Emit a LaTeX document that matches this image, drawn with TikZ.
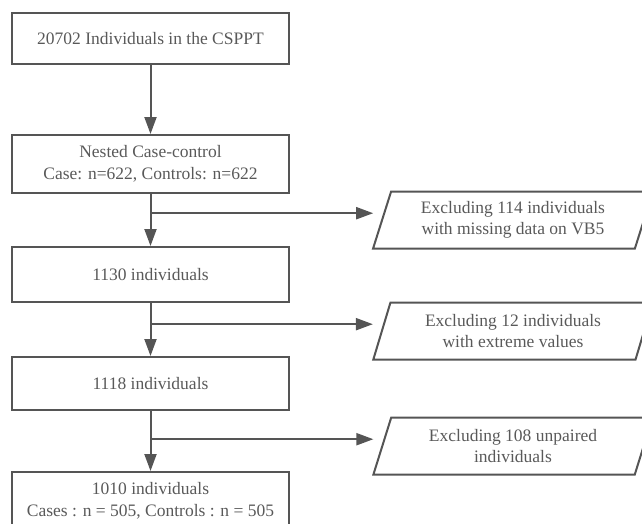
\documentclass[tikz,border=0pt]{standalone}
\usepackage{fontspec}
\setmainfont{Liberation Serif}
\usetikzlibrary{arrows.meta,shapes.geometric}
\definecolor{linegray}{HTML}{555555}
\definecolor{textgray}{HTML}{595959}

\begin{document}
\begin{tikzpicture}[x=1pt,y=-1pt,
        box/.style={draw=linegray,line width=2pt,text=textgray,minimum width=277pt,inner sep=0pt,align=center,font=\fontsize{17.5}{21.5}\selectfont},
        excl/.style={trapezium,trapezium left angle=70,trapezium right angle=110,trapezium stretches=true,draw=linegray,line width=2pt,text=textgray,minimum width=280pt,minimum height=57pt,inner sep=0pt,align=center,font=\fontsize{17.5}{21.5}\selectfont},
        arr/.style={draw=linegray,line width=2pt,-{Triangle[length=17pt,width=12pt]}}]
            \useasboundingbox (0,0) rectangle (642,523);
            \node[box,minimum height=51pt] (all) at (150.5,38.5) {20702 Individuals in the CSPPT};
            \node[box,minimum height=58pt] (nested) at (150.5,164) {Nested Case-control\\Case: n=622, Controls: n=622};
            \node[box,minimum height=55pt] (n1130) at (150.5,274.5) {1130 individuals};
            \node[box,minimum height=53pt] (n1118) at (150.5,383.5) {1118 individuals};
            \node[box,minimum height=58pt] (n1010) at (150.5,501) {1010 individuals\\Cases : n = 505, Controls : n = 505};
            \node[excl] (vb5) at (513,220) {Excluding 114 individuals\\with missing data on VB5};
            \node[excl] (extreme) at (513,331) {Excluding 12 individuals\\with extreme values};
            \node[excl] (unpaired) at (513,446) {Excluding 108 unpaired\\individuals};
            \draw[arr] (all) -- (nested);
            \draw[arr] (nested) -- (n1130);
            \draw[arr] (n1130) -- (n1118);
            \draw[arr] (n1118) -- (n1010);
            \foreach \a/\b in {nested/vb5,n1130/extreme,n1118/unpaired}{
                \draw[arr,shorten >=10pt] (\a.south |- \b.177) -- (\b.177);
            }
        \end{tikzpicture}
\end{document}
